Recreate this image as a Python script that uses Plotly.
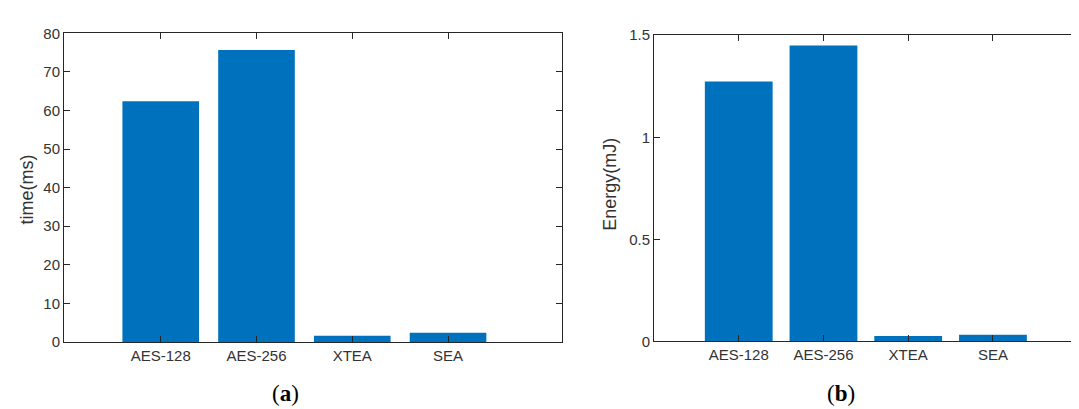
import plotly.graph_objects as go

categories = ["AES-128", "AES-256", "XTEA", "SEA"]
time_ms = [62.4, 75.7, 1.6, 2.4]
energy_mj = [1.273, 1.45, 0.026, 0.033]
time_ticks = [0, 10, 20, 30, 40, 50, 60, 70, 80]
energy_ticks = [0, 0.5, 1, 1.5]
energy_ticklabels = ["0", "0.5", "1", "1.5"]

BAR = "#0072BD"
AX = "#262626"
TXT = "#333333"
W, H = 1079, 409

fig = go.Figure()
fig.add_trace(go.Bar(x=categories, y=time_ms, width=0.8, marker=dict(color=BAR, line=dict(width=0)),
                     xaxis="x", yaxis="y", showlegend=False))
fig.add_trace(go.Bar(x=categories, y=energy_mj, width=0.8, marker=dict(color=BAR, line=dict(width=0)),
                     xaxis="x2", yaxis="y2", showlegend=False))

font = dict(family="Liberation Sans, Arial, sans-serif", size=15, color=TXT)
title_font = dict(family="Liberation Sans, Arial, sans-serif", size=18, color=TXT)
common_axis = dict(showgrid=False, zeroline=False, showline=True, linecolor=AX, linewidth=1,
                   ticks="inside", ticklen=6, tickcolor=AX, tickfont=font)

fig.update_layout(
    width=W, height=H,
    margin=dict(l=0, r=0, t=0, b=0),
    paper_bgcolor="white", plot_bgcolor="white",
    bargap=0.2,
    xaxis=dict(domain=[56 / W, 554 / W], anchor="y", range=[-1.01, 4.19], mirror="allticks",
               type="category", **common_axis),
    yaxis=dict(domain=[1 - 339 / H, 1 - 17 / H], anchor="x", range=[0, 80], tickvals=time_ticks,
               mirror="allticks", **common_axis),
    xaxis2=dict(domain=[646 / W, 1.0], anchor="y2", range=[-1.0, 4.11], mirror="ticks",
                type="category", **common_axis),
    yaxis2=dict(domain=[1 - 338.5 / H, 1 - 19 / H], anchor="x2", range=[0, 1.5], tickvals=energy_ticks,
                ticktext=energy_ticklabels, **common_axis),
)

fig.add_annotation(text="time(ms)", x=19 / W, y=1 - 180 / H, xref="paper", yref="paper",
                   textangle=-90, showarrow=False, font=title_font, xanchor="center", yanchor="middle")
fig.add_annotation(text="Energy(mJ)", x=602 / W, y=1 - 175 / H, xref="paper", yref="paper",
                   textangle=-90, showarrow=False, font=title_font, xanchor="center", yanchor="middle")

cap_font = dict(family="Liberation Serif, DejaVu Serif, serif", size=23, color="black")
fig.add_annotation(text="(<b>a</b>)", x=277 / W, y=1 - 393 / H, xref="paper", yref="paper",
                   showarrow=False, font=cap_font, xanchor="center", yanchor="middle")
fig.add_annotation(text="(<b>b</b>)", x=833 / W, y=1 - 393 / H, xref="paper", yref="paper",
                   showarrow=False, font=cap_font, xanchor="center", yanchor="middle")

fig.write_html("out.html")
